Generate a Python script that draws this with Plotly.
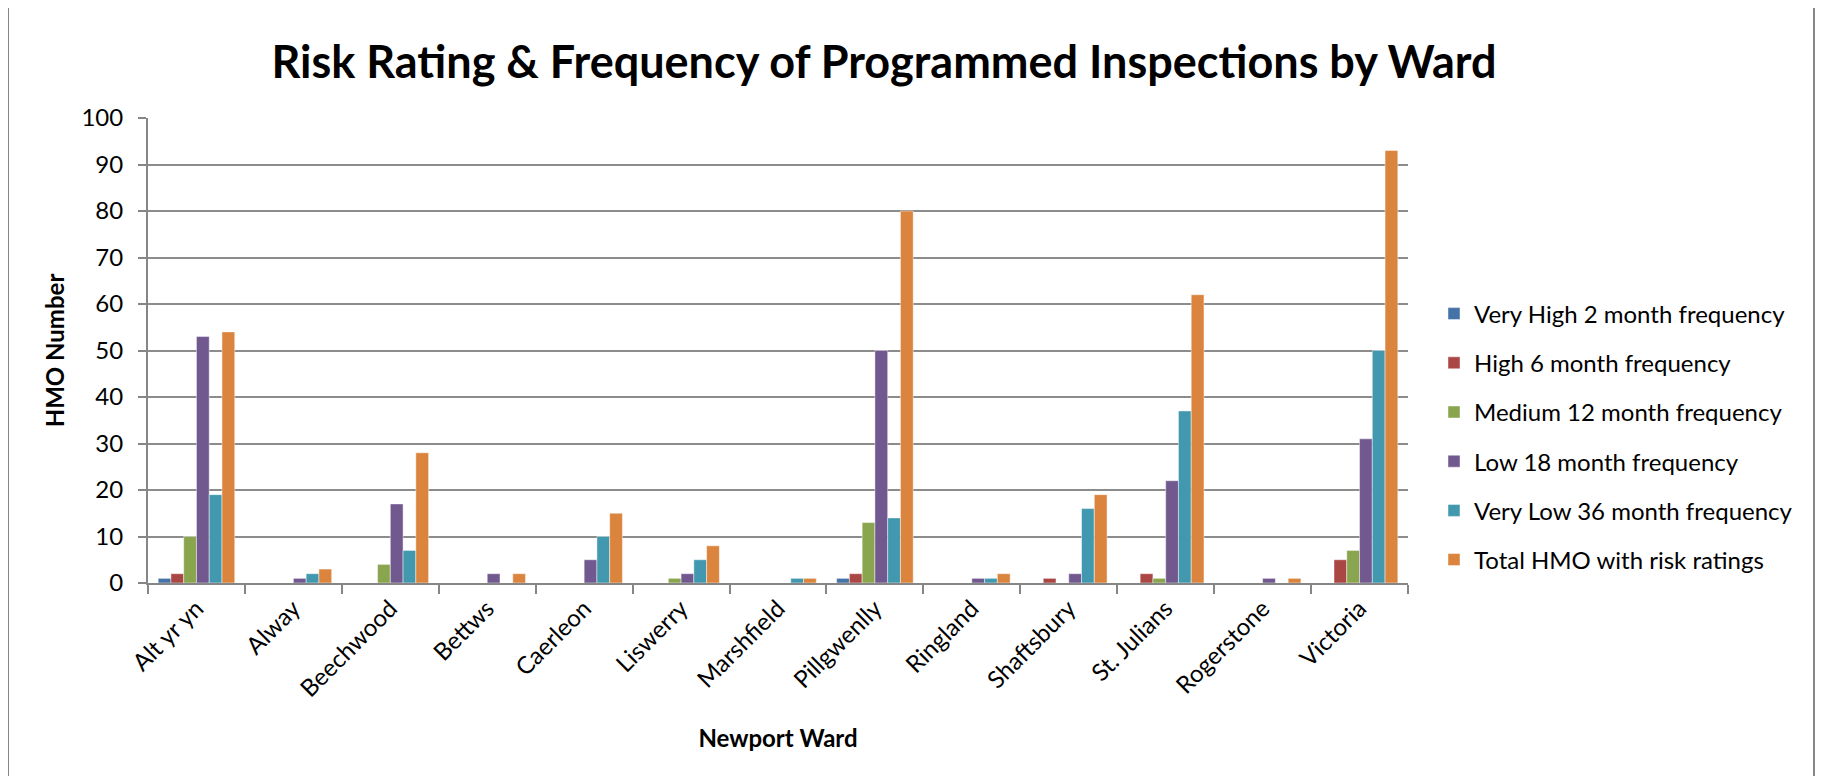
import plotly.graph_objects as go

wards = ["Alt yr yn", "Alway", "Beechwood", "Bettws", "Caerleon", "Liswerry",
         "Marshfield", "Pillgwenlly", "Ringland", "Shaftsbury", "St. Julians",
         "Rogerstone", "Victoria"]

very_high = [1, 0, 0, 0, 0, 0, 0, 1, 0, 0, 0, 0, 0]
high = [2, 0, 0, 0, 0, 0, 0, 2, 0, 1, 2, 0, 5]
medium = [10, 0, 4, 0, 0, 1, 0, 13, 0, 0, 1, 0, 7]
low = [53, 1, 17, 2, 5, 2, 0, 50, 1, 2, 22, 1, 31]
very_low = [19, 2, 7, 0, 10, 5, 1, 14, 1, 16, 37, 0, 50]
total = [54, 3, 28, 2, 15, 8, 1, 80, 2, 19, 62, 1, 93]

series_names = ["Very High 2 month frequency", "High 6 month frequency",
                "Medium 12 month frequency", "Low 18 month frequency",
                "Very Low 36 month frequency", "Total HMO with risk ratings"]
series_values = [very_high, high, medium, low, very_low, total]
colors = ["#4572A7", "#AA4643", "#89A54E", "#71588F", "#4198AF", "#DB843D"]

y_ticks = list(range(0, 101, 10))

FONT = "Lato, 'Open Sans', sans-serif"

# page body has an 8px margin; figure sized to fit the viewport
OFF = 8
W, H = 1823 - 2 * OFF, 784 - 2 * OFF
# target screen positions of plot area
SL, SR, ST, SB = 148, 1408, 118, 583
L, R, T, B = SL - OFF, SR - OFF, ST - OFF, SB - OFF

fig = go.Figure()
for i, (name, vals, col) in enumerate(zip(series_names, series_values, colors)):
    fig.add_trace(go.Bar(
        x=wards,
        y=[v if v != 0 else None for v in vals],
        name=name,
        legendgroup=f"g{i}",
        marker=dict(color=col, line=dict(color="rgba(255,255,255,0.45)", width=1)),
    ))

pw = SR - SL
ph = SB - ST

fig.update_layout(
    width=W, height=H,
    margin=dict(l=L, r=W - R, t=T, b=H - B, autoexpand=False),
    paper_bgcolor="white", plot_bgcolor="white",
    font=dict(family=FONT, color="black", size=24),
    barmode="group", bargap=0.21, bargroupgap=0,
    title=dict(text="<b>Risk Rating & Frequency of Programmed Inspections by Ward</b>",
               font=dict(family=FONT, size=45, color="black"),
               x=(884 - SL) / pw, xref="paper", xanchor="center",
               y=1 - (62 - OFF) / H, yref="container", yanchor="middle"),
    xaxis=dict(
        type="category", categoryorder="array", categoryarray=wards,
        tickangle=-45, tickson="boundaries", ticks="outside", ticklen=9,
        tickcolor="#868686", tickwidth=2,
        showline=True, linecolor="#868686", linewidth=2,
        showgrid=False,
        tickfont=dict(family=FONT, size=24, color="black"),
        title=dict(text="<b>Newport Ward</b>", font=dict(family=FONT, size=24, color="black"),
                   standoff=29),
    ),
    yaxis=dict(
        range=[0, 100], tickvals=y_ticks, ticks="outside", ticklen=8,
        tickcolor="#868686", tickwidth=2,
        showline=True, linecolor="#868686", linewidth=2,
        showgrid=True, gridcolor="#8c8c8c", gridwidth=2,
        zeroline=False, ticklabelstandoff=10,
        tickfont=dict(family=FONT, size=24, color="black"),
        title=dict(text="<b>HMO Number</b>", font=dict(family=FONT, size=24, color="black"),
                   standoff=10),
    ),
    legend=dict(
        x=(1434 - SL) / pw, xanchor="left", xref="paper",
        y=(SB - 437) / ph, yanchor="middle", yref="paper",
        traceorder="grouped", tracegroupgap=15,
        font=dict(family=FONT, size=24, color="black"),
        bgcolor="rgba(0,0,0,0)",
        itemwidth=30,
    ),
    shapes=[dict(
        type="rect", xref="paper", yref="paper",
        x0=(8 - SL) / pw, x1=(1814 - SL) / pw,
        y0=(SB - 800) / ph, y1=(SB - 5) / ph,
        line=dict(color="#868686", width=2), fillcolor="rgba(0,0,0,0)", layer="below",
    )],
)

fig.write_html("out.html")
